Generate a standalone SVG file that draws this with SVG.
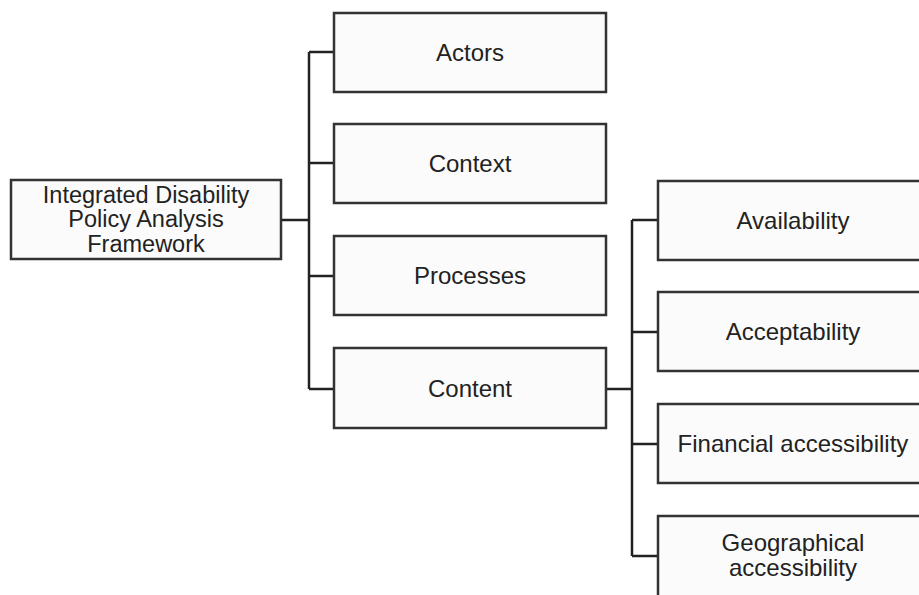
<svg xmlns="http://www.w3.org/2000/svg" width="919" height="595" viewBox="0 0 919 595">
<style>
.box{fill:#fbfbfb;stroke:#333;stroke-width:2.5}
.t{font-family:"Liberation Sans",Arial,sans-serif;font-size:24px;fill:#222;text-anchor:middle}
.m{font-size:23.5px}
.c{fill:none;stroke:#222;stroke-width:2.5}
</style>
<rect width="919" height="595" fill="#fff"/>
<g id="connectors">
<path class="c" d="M281 220H309M309 52V389M309 52H334M309 163H334M309 276H334M309 389H334"/>
<path class="c" d="M606 389H632M632 220V556M632 220H658M632 332H658M632 444H658M632 556H658"/>
</g>
<g id="framework">
<rect class="box" x="11" y="180" width="270" height="79"/>
<text class="t m" x="146" y="203">Integrated Disability</text>
<text class="t m" x="146" y="227">Policy Analysis</text>
<text class="t m" x="146" y="252">Framework</text>
</g>
<g id="actors">
<rect class="box" x="334" y="13" width="272" height="79"/>
<text class="t" x="470" y="61">Actors</text>
</g>
<g id="context">
<rect class="box" x="334" y="124" width="272" height="79"/>
<text class="t" x="470" y="172">Context</text>
</g>
<g id="processes">
<rect class="box" x="334" y="236" width="272" height="79"/>
<text class="t" x="470" y="284">Processes</text>
</g>
<g id="content">
<rect class="box" x="334" y="348" width="272" height="80"/>
<text class="t" x="470" y="397">Content</text>
</g>
<g id="availability">
<rect class="box" x="658" y="181" width="275" height="79"/>
<text class="t" x="793" y="229">Availability</text>
</g>
<g id="acceptability">
<rect class="box" x="658" y="292" width="275" height="79"/>
<text class="t" x="793" y="340">Acceptability</text>
</g>
<g id="financial">
<rect class="box" x="658" y="404" width="275" height="79"/>
<text class="t" x="793" y="452">Financial accessibility</text>
</g>
<g id="geographical">
<rect class="box" x="658" y="516" width="275" height="90"/>
<text class="t" x="793" y="551">Geographical</text>
<text class="t" x="793" y="576">accessibility</text>
</g>
</svg>
